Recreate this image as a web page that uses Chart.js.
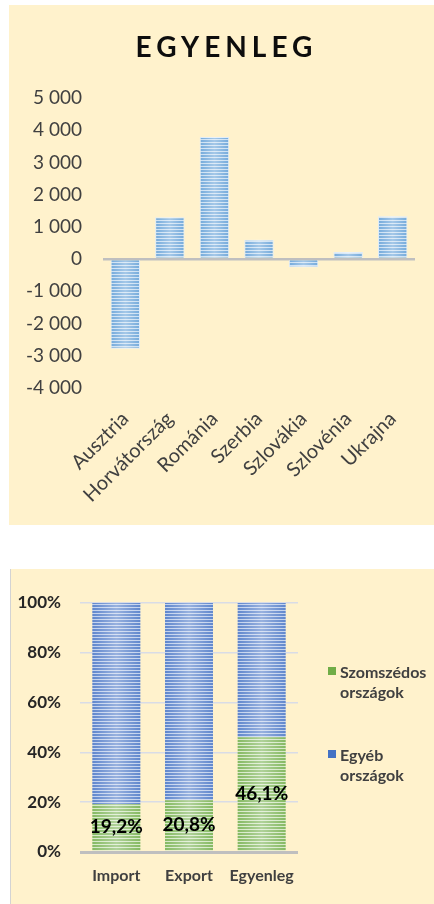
<!DOCTYPE html>
<html lang="hu">
<head>
<meta charset="utf-8">
<title>Egyenleg</title>
<script src="https://cdn.jsdelivr.net/npm/chart.js@4.4.1/dist/chart.umd.min.js"></script>
<style>
  html, body { margin: 0; padding: 0; background: #fff; }
  body { width: 434px; height: 904px; position: relative; overflow: hidden; font-family: Lato, "Open Sans", sans-serif; }
  .panel { position: absolute; background: #fff2cc; }
  #top { left: 9px; top: 5px; width: 425px; height: 520px; }
  #bottom { left: 10px; top: 569px; width: 423px; height: 335px; border-left: 1px solid #d3d3d3; }
  .panel canvas { position: absolute; left: 0; top: 0; }
  .title {
    position: absolute; left: 5px; top: 24px; width: 100%;
    text-align: center; font: bold 28px Lato, sans-serif; letter-spacing: 5px; color: #0d0d0d;
  }
  #legend { position: absolute; left: 317px; top: 93px; font: bold 16px Lato, sans-serif; color: #404040; }
  #legend .item { position: relative; padding-left: 12px; width: 92px; line-height: 20px; margin-bottom: 43px; }
  #legend .box { position: absolute; left: 0; top: 5px; width: 8px; height: 8px; }
</style>
</head>
<body>
<div class="panel" id="top">
  <canvas id="balanceChart" width="425" height="520"></canvas>
  <div class="title">EGYENLEG</div>
</div>
<div class="panel" id="bottom">
  <canvas id="shareChart" width="423" height="335"></canvas>
  <div id="legend"></div>
</div>
<script>
// Egyenleg by country
const countries = ['Ausztria', 'Horvátország', 'Románia', 'Szerbia', 'Szlovákia', 'Szlovénia', 'Ukrajna'];
const balance = [-2780, 1300, 3790, 600, -255, 220, 1330];
const balanceMin = -4000;
const balanceMax = 5000;
const balanceStep = 1000;

// share of neighbouring countries
const shareCategories = ['Import', 'Export', 'Egyenleg'];
const neighbourShare = [19.2, 20.8, 46.1];
const otherShare = [80.8, 79.2, 53.9];
const seriesNames = ['Szomszédos országok', 'Egyéb országok'];

Chart.defaults.font.family = 'Lato, "Open Sans", sans-serif';
Chart.defaults.animation = false;

function stripes(ctx, dark, light) {
  const c = document.createElement('canvas');
  c.width = 4;
  c.height = 3;
  const p = c.getContext('2d');
  p.fillStyle = light;
  p.fillRect(0, 0, 4, 3);
  p.fillStyle = dark;
  p.fillRect(0, 0, 4, 2);
  return ctx.createPattern(c, 'repeat');
}

function spaced(v) {
  const s = Math.abs(v).toString().replace(/\B(?=(\d{3})+(?!\d))/g, ' ');
  return (v < 0 ? '-' : '') + s;
}

// light streak down the middle of each bar
const sheen = {
  id: 'sheen',
  afterDatasetsDraw(chart) {
    const { ctx } = chart;
    chart.data.datasets.forEach((ds, i) => {
      chart.getDatasetMeta(i).data.forEach((bar) => {
        const { x, y, base, width } = bar.getProps(['x', 'y', 'base', 'width'], true);
        const left = x - width / 2;
        const g = ctx.createLinearGradient(left, 0, left + width, 0);
        g.addColorStop(0, 'rgba(255,255,255,0.15)');
        g.addColorStop(0.5, 'rgba(255,255,255,0.45)');
        g.addColorStop(1, 'rgba(255,255,255,0.15)');
        ctx.save();
        ctx.fillStyle = g;
        ctx.fillRect(left, Math.min(y, base), width, Math.abs(base - y));
        ctx.restore();
      });
    });
  },
};

const shareLabels = {
  id: 'shareLabels',
  afterDatasetsDraw(chart) {
    const { ctx } = chart;
    const ds = chart.data.datasets[0];
    ctx.save();
    ctx.font = 'bold 19px Lato, sans-serif';
    ctx.fillStyle = '#000';
    ctx.textAlign = 'center';
    ctx.textBaseline = 'middle';
    chart.getDatasetMeta(0).data.forEach((bar, i) => {
      const pt = bar.getCenterPoint();
      ctx.fillText(ds.data[i].toFixed(1).replace('.', ',') + '%', pt.x, pt.y);
    });
    ctx.restore();
  },
};

const balanceCanvas = document.getElementById('balanceChart');
const balanceCtx = balanceCanvas.getContext('2d');

new Chart(balanceCanvas, {
  type: 'bar',
  data: {
    labels: countries,
    datasets: [{
      data: balance,
      backgroundColor: stripes(balanceCtx, '#5b9bd5', '#c3dbf1'),
      borderColor: '#d9e8f6',
      borderWidth: 1,
      barPercentage: 0.66,
      categoryPercentage: 1,
    }],
  },
  options: {
    responsive: false,
    layout: { padding: { top: 93, right: 19, bottom: 0, left: 0 } },
    plugins: { legend: { display: false }, tooltip: { enabled: false } },
    scales: {
      x: {
        grid: { display: false, drawTicks: false },
        border: { display: false },
        ticks: {
          autoSkip: false, minRotation: 45, maxRotation: 45, padding: 19,
          color: '#404040', font: { size: 20 },
        },
        afterFit: (scale) => { scale.height = 137; },
      },
      y: {
        min: balanceMin,
        max: balanceMax,
        grid: {
          drawTicks: false,
          color: (c) => (c.tick.value === 0 ? '#bfbfbf' : 'transparent'),
          lineWidth: (c) => (c.tick.value === 0 ? 2.5 : 1),
        },
        border: { display: false },
        ticks: {
          stepSize: balanceStep, padding: 21, color: '#404040', font: { size: 19 },
          callback: (v) => spaced(v),
        },
        afterFit: (scale) => { scale.width = 94; },
      },
    },
  },
  plugins: [sheen],
});

const shareCanvas = document.getElementById('shareChart');
const shareCtx = shareCanvas.getContext('2d');
const green = '#70ad47';
const blue = '#4472c4';

const shareChart = new Chart(shareCanvas, {
  type: 'bar',
  data: {
    labels: shareCategories,
    datasets: [
      {
        label: seriesNames[0],
        data: neighbourShare,
        backgroundColor: stripes(shareCtx, green, '#cfe5bf'),
        legendColor: green,
        barPercentage: 0.66,
        categoryPercentage: 1,
      },
      {
        label: seriesNames[1],
        data: otherShare,
        backgroundColor: stripes(shareCtx, blue, '#b8caea'),
        legendColor: blue,
        barPercentage: 0.66,
        categoryPercentage: 1,
      },
    ],
  },
  options: {
    responsive: false,
    layout: { padding: { top: 34, right: 136, bottom: 0, left: 0 } },
    plugins: { legend: { display: false }, tooltip: { enabled: false } },
    scales: {
      x: {
        stacked: true,
        grid: { display: false, drawTicks: false },
        border: { display: false },
        ticks: { padding: 14, color: '#404040', font: { size: 16, weight: 'bold' } },
        afterFit: (scale) => { scale.height = 52; },
      },
      y: {
        stacked: true,
        min: 0,
        max: 100,
        grid: {
          drawTicks: false,
          color: (c) => (c.tick.value === 0 ? '#bfbfbf' : '#d9dce6'),
          lineWidth: (c) => (c.tick.value === 0 ? 3 : 1.5),
        },
        border: { display: false },
        ticks: {
          stepSize: 20, padding: 19, color: '#262626', font: { size: 17, weight: 'bold' },
          callback: (v) => v + '%',
        },
        afterFit: (scale) => { scale.width = 69; },
      },
    },
  },
  plugins: [sheen, shareLabels],
});

const legend = document.getElementById('legend');
shareChart.data.datasets.forEach((ds) => {
  const item = document.createElement('div');
  item.className = 'item';
  const box = document.createElement('span');
  box.className = 'box';
  box.style.background = ds.legendColor;
  item.appendChild(box);
  item.appendChild(document.createTextNode(ds.label));
  legend.appendChild(item);
});
</script>
</body>
</html>
